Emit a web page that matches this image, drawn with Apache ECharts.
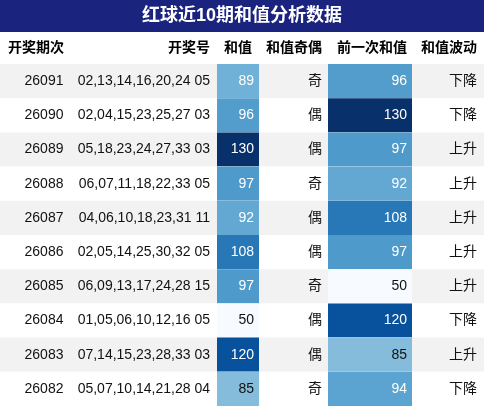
<!DOCTYPE html><html><head><meta charset="utf-8">
<script src="https://cdn.jsdelivr.net/npm/echarts@6/dist/echarts.min.js"></script>
<style>html,body{margin:0;padding:0}#c{width:484px;height:406px}</style></head><body><div id="c"></div>
<script>
const periods=['26091','26090','26089','26088','26087','26086','26085','26084','26083','26082'];
const numbers=['02,13,14,16,20,24 05','02,04,15,23,25,27 03','05,18,23,24,27,33 03','06,07,11,18,22,33 05','04,06,10,18,23,31 11','02,05,14,25,30,32 05','06,09,13,17,24,28 15','01,05,06,10,12,16 05','07,14,15,23,28,33 03','05,07,10,14,21,28 04'];
const sums=[89,96,130,97,92,108,97,50,120,85];
const parity=['奇','偶','偶','奇','偶','偶','奇','偶','偶','奇'];
const prevSums=[96,130,97,92,108,97,50,120,85,94];
const trend=['下降','下降','上升','上升','偶','上升','上升','下降','上升','下降'];
trend[4]='上升';
const headers=['开奖期次','开奖号','和值','和值奇偶','前一次和值','和值波动'];
const palette=['#f7fbff','#deebf7','#c6dbef','#9ecae1','#6baed6','#4292c6','#2171b5','#08519c','#08306b'];
const vmin=50,vmax=130;
const colorOf=v=>echarts.color.lerp((v-vmin)/(vmax-vmin),palette);
const F='"Liberation Sans","Noto Sans CJK SC",sans-serif';
const chart=echarts.init(document.getElementById('c'));
const hx=[[36,'center'],[210,'right'],[238,'center'],[322,'right'],[407,'right'],[477,'right']];
chart.setOption({
 animation:false,
 graphic:[
  {type:'rect',shape:{x:0,y:0,width:484,height:32},style:{fill:'#1a237e'}},
  {type:'text',x:242,y:16,style:{text:'红球近10期和值分析数据',fill:'#fff',font:'bold 18px '+F,align:'center',verticalAlign:'middle'}},
  ...headers.map((h,i)=>({type:'text',x:hx[i][0],y:48,style:{text:h,fill:'#000',font:'bold 14px '+F,align:hx[i][1],verticalAlign:'middle'}}))
 ],
 grid:{left:0,right:0,top:64,bottom:0},
 xAxis:{type:'value',min:0,max:484,show:false},
 yAxis:{type:'category',data:periods,inverse:true,show:false},
 series:[{type:'custom',data:periods.map((p,i)=>[i]),
  renderItem:(params,api)=>{
   const i=api.value(0);
   const c=api.coord([0,i]);const h=api.size([0,1])[1];
   const y0=c[1]-h/2,cy=c[1];
   const t=(x,s,al,col)=>({type:'text',style:{x:x,y:cy,text:s,fill:col||'#111',font:'14px '+F,align:al,verticalAlign:'middle'}});
   const light=v=>v<88;
   return {type:'group',children:[
    {type:'rect',shape:{x:0,y:y0,width:484,height:h},style:{fill:i%2===0?'#f2f2f2':'#fff'}},
    {type:'rect',shape:{x:217,y:y0,width:42,height:h},style:{fill:colorOf(sums[i])}},
    {type:'rect',shape:{x:328,y:y0,width:84,height:h},style:{fill:colorOf(prevSums[i])}},
    t(44,periods[i],'center'),
    t(210,numbers[i],'right'),
    t(254,String(sums[i]),'right',light(sums[i])?'#111':'#fff'),
    t(322,parity[i],'right'),
    t(407,String(prevSums[i]),'right',light(prevSums[i])?'#111':'#fff'),
    t(477,trend[i],'right')
   ]};
  }}]
});
</script></body></html>
